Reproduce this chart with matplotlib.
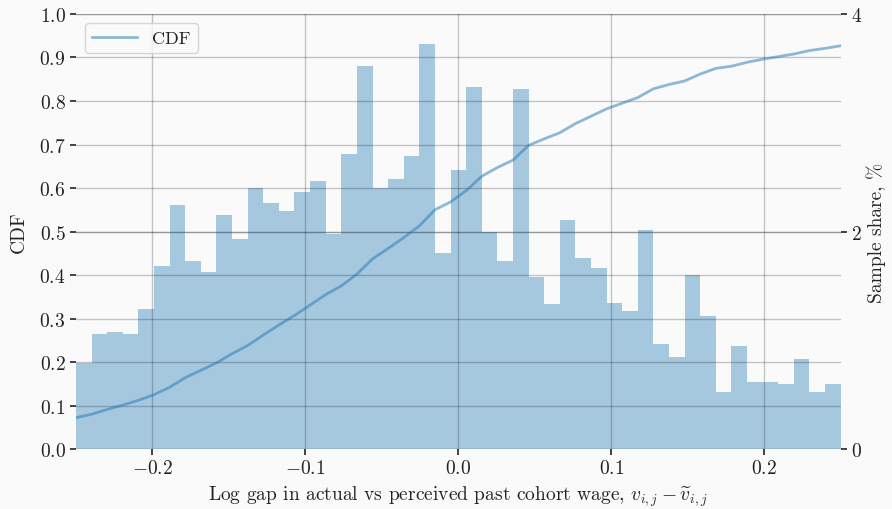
import numpy as np
import matplotlib.pyplot as plt

plt.rcParams.update({
    "font.family": "serif",
    "font.serif": ["cmr10"],
    "mathtext.fontset": "cm",
    "axes.formatter.use_mathtext": True,
    "font.size": 14,
    "text.color": "#222222",
    "axes.labelcolor": "#222222",
    "xtick.color": "#222222",
    "ytick.color": "#222222",
})

# histogram: 49 bins over [-0.25, 0.25], share of sample in percent
bin_edges = np.linspace(-0.25, 0.25, 50)
share_pct = [0.79, 1.06, 1.08, 1.06, 1.29, 1.68, 2.24, 1.73, 1.63, 2.15,
             1.93, 2.40, 2.26, 2.19, 2.36, 2.46, 1.98, 2.71, 3.52, 2.40,
             2.48, 2.69, 3.72, 1.80, 2.57, 3.33, 2.00, 1.73, 3.31, 1.58,
             1.33, 2.11, 1.76, 1.66, 1.34, 1.27, 2.01, 0.97, 0.85, 1.60,
             1.22, 0.52, 0.95, 0.62, 0.62, 0.60, 0.83, 0.52, 0.60]

# empirical CDF read at the bin edges
cdf = [0.072, 0.080, 0.091, 0.101, 0.112, 0.125, 0.142, 0.164, 0.181, 0.198,
       0.219, 0.238, 0.262, 0.285, 0.307, 0.331, 0.355, 0.375, 0.402, 0.437,
       0.461, 0.486, 0.513, 0.550, 0.568, 0.594, 0.627, 0.647, 0.664, 0.698,
       0.713, 0.727, 0.748, 0.765, 0.782, 0.795, 0.808, 0.828, 0.838, 0.846,
       0.862, 0.875, 0.880, 0.889, 0.896, 0.902, 0.908, 0.916, 0.921, 0.927]

bg = "#fafafa"
fig, ax = plt.subplots(figsize=(8.92, 5.10), dpi=100)
fig.patch.set_facecolor(bg)
ax2 = ax.twinx()
ax2.set_facecolor(bg)
ax.set_zorder(2)
ax.patch.set_visible(False)

ax2.bar(bin_edges[:-1], share_pct, width=np.diff(bin_edges), align="edge",
        color="#1f77b4", alpha=0.38, linewidth=0)
ax.plot(bin_edges, cdf, color="#1f77b4", alpha=0.5, lw=2, label="CDF")

ax.set_xlim(-0.25, 0.25)
ax.set_ylim(0, 1)
ax2.set_ylim(0, 4)
ax.set_yticks(np.arange(0, 1.01, 0.1))
ax.set_xticks([-0.2, -0.1, 0.0, 0.1, 0.2])
ax2.set_yticks([0, 2, 4])

for a in (ax, ax2):
    for s in a.spines.values():
        s.set_visible(False)
    a.grid(True, color="k", alpha=0.22, lw=1)
    a.tick_params(length=4, width=1.2)
ax2.set_axisbelow(True)

ax.set_ylabel("CDF", labelpad=8)
ax2.set_ylabel("Sample share, %", labelpad=3)
ax.set_xlabel(r"Log gap in actual vs perceived past cohort wage, $v_{i,j}-\widetilde{v}_{i,j}$",
              labelpad=4)

leg = ax.legend(loc="upper left", fontsize=13, frameon=True, fancybox=True,
                handlelength=2.5)
leg.get_frame().set_facecolor(bg)
leg.get_frame().set_edgecolor("#cccccc")

fig.subplots_adjust(left=0.0852, right=0.9425, top=0.9706, bottom=0.1176)
fig.savefig("out.png", facecolor=bg)
